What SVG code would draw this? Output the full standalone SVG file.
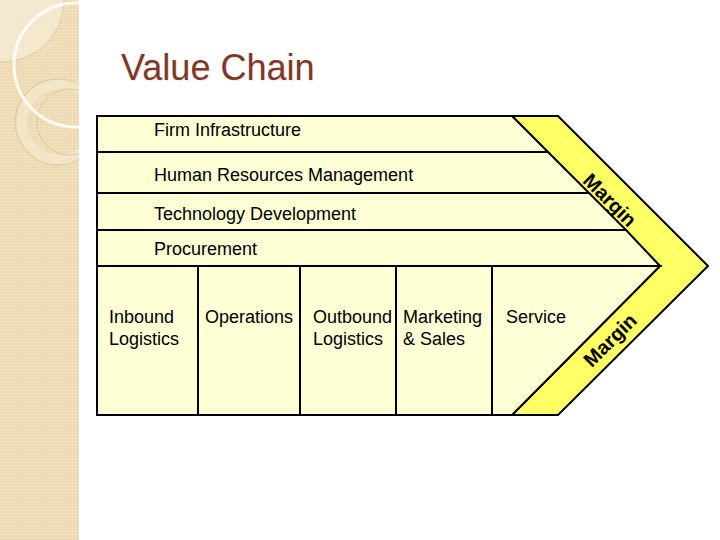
<svg xmlns="http://www.w3.org/2000/svg" width="720" height="540" viewBox="0 0 720 540">
  <defs>
    <pattern id="tex" width="3" height="3" patternUnits="userSpaceOnUse">
      <rect width="3" height="3" fill="#EEDDB6"/>
      <rect width="1" height="1" fill="#F5E8CB"/>
      <rect x="1.5" y="1.5" width="1" height="1" fill="#E6D3A8"/>
    </pattern>
    <clipPath id="band"><rect x="0" y="0" width="79" height="540"/></clipPath>
  </defs>
  <style>
    .box { fill: #FFFFD6; stroke: #000; stroke-width: 2; stroke-linejoin: miter; }
    .margin { fill: #FFFF66; stroke: #000; stroke-width: 2; }
    .lbl { font-family: "Liberation Sans", Arial, sans-serif; font-size: 18px; fill: #000; }
    .mlbl { font-family: "Liberation Sans", Arial, sans-serif; font-size: 20px; font-weight: bold; fill: #000; text-anchor: middle; }
    .title { font-family: "Liberation Sans", Arial, sans-serif; font-size: 36px; fill: #7E3828; }
  </style>
  <rect width="720" height="540" fill="#FFFFFF"/>
  <g id="background-band">
    <rect x="0" y="0" width="79" height="540" fill="url(#tex)"/>
    <g clip-path="url(#band)">
      <circle cx="2" cy="0" r="62" fill="#FFFFFF" fill-opacity="0.35" stroke="#D9C49A" stroke-width="0.8"/>
      <circle cx="60" cy="122" r="38" fill="none" stroke="#F6EBD2" stroke-width="10" stroke-opacity="0.6"/>
      <circle cx="58" cy="122" r="43" fill="none" stroke="#D6C196" stroke-width="0.8"/>
      <circle cx="70" cy="122" r="33" fill="none" stroke="#D6C196" stroke-width="0.8"/>
      <circle cx="76" cy="65" r="62" fill="none" stroke="#FFFFFF" stroke-width="3" stroke-opacity="0.85"/>
    </g>
  </g>
  <g id="title">
    <text x="122" y="81" class="title" fill-opacity="0.25" style="fill:#D9A090">Value Chain</text>
    <text x="121" y="80" class="title">Value Chain</text>
  </g>
  <g id="margin">
    <polygon class="margin" points="512,116 558,116 708,266 558,415 512,415 660,266"/>
    <text class="mlbl" transform="translate(610,200) rotate(45)" x="0" y="7">Margin</text>
    <text class="mlbl" transform="translate(610,340) rotate(-45)" x="0" y="7">Margin</text>
  </g>
  <g id="firm-infrastructure">
    <polygon class="box" points="97,116 512,116 548,152 97,152"/>
    <text class="lbl" x="154" y="136">Firm Infrastructure</text>
  </g>
  <g id="human-resources">
    <polygon class="box" points="97,152 548,152 589,193 97,193"/>
    <text class="lbl" x="154" y="181">Human Resources Management</text>
  </g>
  <g id="technology-development">
    <polygon class="box" points="97,193 589,193 626,230 97,230"/>
    <text class="lbl" x="154" y="220">Technology Development</text>
  </g>
  <g id="procurement">
    <polygon class="box" points="97,230 626,230 660,266 97,266"/>
    <text class="lbl" x="154" y="255">Procurement</text>
  </g>
  <g id="inbound-logistics">
    <rect class="box" x="97" y="266" width="101" height="149"/>
    <text class="lbl" x="109" y="323">Inbound</text>
    <text class="lbl" x="109" y="345">Logistics</text>
  </g>
  <g id="operations">
    <rect class="box" x="198" y="266" width="102" height="149"/>
    <text class="lbl" x="205" y="323">Operations</text>
  </g>
  <g id="outbound-logistics">
    <rect class="box" x="300" y="266" width="96" height="149"/>
    <text class="lbl" x="313" y="323">Outbound</text>
    <text class="lbl" x="313" y="345">Logistics</text>
  </g>
  <g id="marketing-sales">
    <rect class="box" x="396" y="266" width="96" height="149"/>
    <text class="lbl" x="403" y="323">Marketing</text>
    <text class="lbl" x="403" y="345">&amp; Sales</text>
  </g>
  <g id="service">
    <polygon class="box" points="492,266 660,266 512,415 492,415"/>
    <text class="lbl" x="506" y="323">Service</text>
  </g>
  <g id="connectors"/>
</svg>
